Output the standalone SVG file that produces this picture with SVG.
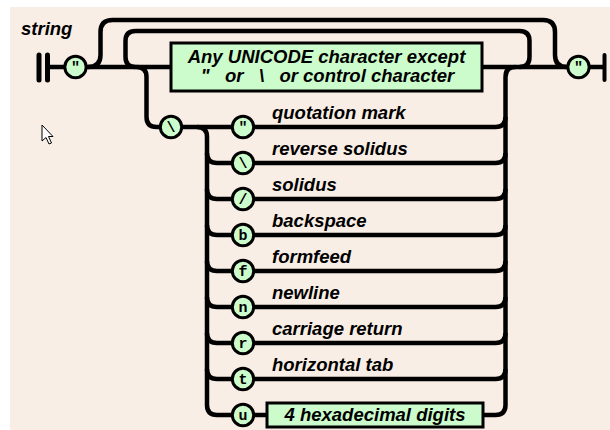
<svg xmlns="http://www.w3.org/2000/svg" width="610" height="430" viewBox="0 0 610 430">
<style>
.bg{fill:#f9eee5}
.ln{fill:none;stroke:#000;stroke-width:4.5;stroke-linecap:butt}
.bar{stroke:#000;stroke-width:5;stroke-linecap:round}
.tc{fill:#ccfccc;stroke:#000;stroke-width:3}
.box{fill:#ccfccc;stroke:#000;stroke-width:3}
.lbl{font-family:"Liberation Sans",Arial,sans-serif;font-weight:bold;font-style:italic;font-size:18.5px;fill:#000}
.ch{font-family:"Liberation Mono","Courier New",monospace;font-weight:bold;font-size:15px;fill:#000;text-anchor:middle}
.bt{font-family:"Liberation Sans",Arial,sans-serif;font-weight:bold;font-style:italic;font-size:18.5px;fill:#000;text-anchor:middle}
</style>
<rect class="bg" x="10" y="7" width="600" height="423"/>
<text class="lbl" x="21" y="35">string</text>
<g id="connectors">
<path class="ln" d="M50,67 H64 M86,67 H171 M482,67 H567 M590,67 H604"/>
<path class="ln" d="M88,67 Q100.5,67 100.5,55 V32 Q100.5,20 112.5,20 H543 Q555,20 555,32 V55 Q555,67 567,67"/>
<path class="ln" d="M519.5,67 Q529.5,67 529.5,57 V41 Q529.5,31 519.5,31 H135.5 Q125.5,31 125.5,41 V57 Q125.5,67 135.5,67"/>
<path class="ln" d="M136.5,67 Q146.5,67 146.5,77 V117 Q146.5,127 156.5,127 H161"/>
<path class="ln" d="M181,127 H233"/>
<path class="ln" d="M197,127 Q207,127 207,137 V405 Q207,415 217,415 H233"/>
<path class="ln" d="M207,153 Q207,163 217,163 H233 M207,189 Q207,199 217,199 H233 M207,225 Q207,235 217,235 H233 M207,261 Q207,271 217,271 H233 M207,297 Q207,307 217,307 H233 M207,333 Q207,343 217,343 H233 M207,369 Q207,379 217,379 H233"/>
<path class="ln" d="M253,127 H495.5 Q505.5,127 505.5,117 M253,163 H495.5 Q505.5,163 505.5,153 M253,199 H495.5 Q505.5,199 505.5,189 M253,235 H495.5 Q505.5,235 505.5,225 M253,271 H495.5 Q505.5,271 505.5,261 M253,307 H495.5 Q505.5,307 505.5,297 M253,343 H495.5 Q505.5,343 505.5,333 M253,379 H495.5 Q505.5,379 505.5,369"/>
<path class="ln" d="M253,415 H268 M482,415 H495.5 Q505.5,415 505.5,405 V77 Q505.5,67 515.5,67"/>
</g>
<g id="start"><line class="bar" x1="39" y1="55" x2="39" y2="80"/><line class="bar" x1="47.5" y1="55" x2="47.5" y2="80"/></g>
<g id="end"><line class="bar" x1="604.5" y1="55" x2="604.5" y2="80" style="stroke-width:4"/></g>
<g id="open-quote"><circle class="tc" cx="75.5" cy="67" r="10.7"/><text class="ch" x="75.5" y="72">"</text></g>
<g id="close-quote"><circle class="tc" cx="578.5" cy="67" r="10.7"/><text class="ch" x="578.5" y="72">"</text></g>
<g id="any-char"><rect class="box" x="171" y="43" width="311" height="48"/>
<text class="bt" x="326.5" y="63">Any UNICODE character except</text>
<text class="bt" x="327.5" y="82" xml:space="preserve">"   or   \   or control character</text></g>
<g id="backslash"><circle class="tc" cx="171" cy="127" r="10.7"/><text class="ch" x="171" y="132">\</text></g>
<g id="esc-quote"><circle class="tc" cx="243" cy="127" r="10.7"/><text class="ch" x="243" y="132">"</text><text class="lbl" x="272" y="119">quotation mark</text></g>
<g id="esc-backslash"><circle class="tc" cx="243" cy="163" r="10.7"/><text class="ch" x="243" y="168">\</text><text class="lbl" x="272" y="155">reverse solidus</text></g>
<g id="esc-slash"><circle class="tc" cx="243" cy="199" r="10.7"/><text class="ch" x="243" y="204">/</text><text class="lbl" x="272" y="191">solidus</text></g>
<g id="esc-b"><circle class="tc" cx="243" cy="235" r="10.7"/><text class="ch" x="243" y="240">b</text><text class="lbl" x="272" y="227">backspace</text></g>
<g id="esc-f"><circle class="tc" cx="243" cy="271" r="10.7"/><text class="ch" x="243" y="276">f</text><text class="lbl" x="272" y="263">formfeed</text></g>
<g id="esc-n"><circle class="tc" cx="243" cy="307" r="10.7"/><text class="ch" x="243" y="312">n</text><text class="lbl" x="272" y="299">newline</text></g>
<g id="esc-r"><circle class="tc" cx="243" cy="343" r="10.7"/><text class="ch" x="243" y="348">r</text><text class="lbl" x="272" y="335">carriage return</text></g>
<g id="esc-t"><circle class="tc" cx="243" cy="379" r="10.7"/><text class="ch" x="243" y="384">t</text><text class="lbl" x="272" y="371">horizontal tab</text></g>
<g id="esc-u"><circle class="tc" cx="243" cy="415" r="10.7"/><text class="ch" x="243" y="420">u</text></g>
<g id="hex-digits"><rect class="box" x="267" y="403" width="216" height="24"/><text class="bt" x="375" y="421">4 hexadecimal digits</text></g>
<path d="M42,125 V141 L46,137.5 L49,144 L51.5,143 L48.5,136.5 L53,136.5 Z" fill="#fff" stroke="#000" stroke-width="1"/>
</svg>
